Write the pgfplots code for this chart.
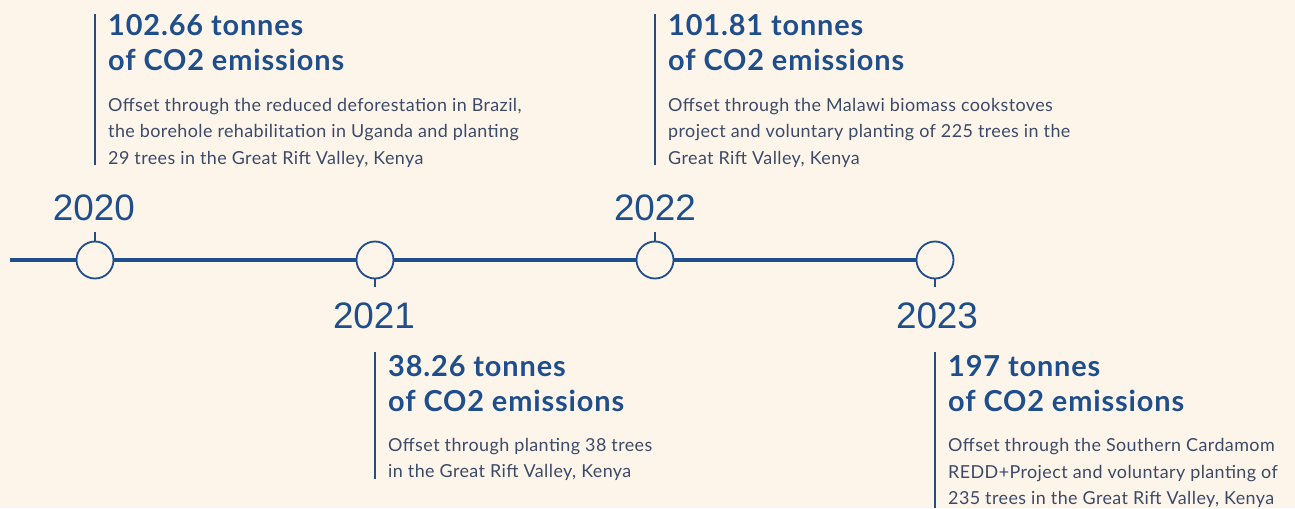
\documentclass[border=0pt]{standalone}
\usepackage{pgfplots}
\pgfplotsset{compat=1.18}
\usepackage{fontspec}
\setmainfont{Lato}
\newfontfamily\yearfont{Liberation Sans}
\newfontfamily\headfont[LetterSpace=3]{Lato}
\newfontfamily\bodfont[LetterSpace=2.3]{Lato}
\definecolor{bg}{HTML}{FEF5EA}
\definecolor{tblue}{HTML}{1F4E8D}
\definecolor{body}{HTML}{3B4A68}
\tikzset{
  head/.style={anchor=base west, font=\fontsize{29}{29}\selectfont\headfont\bfseries, text=tblue, inner sep=0pt},
  bod/.style={anchor=base west, font=\fontsize{18}{18}\selectfont\bodfont, text=body, inner sep=0pt},
  yr/.style={anchor=base, font=\fontsize{37}{37}\selectfont\yearfont, text=tblue, inner sep=0pt},
}
\begin{document}
\begin{tikzpicture}
\begin{axis}[
  scale only axis, width=1295bp, height=508bp,
  xmin=0, xmax=1295, ymin=0, ymax=508, y dir=reverse,
  hide axis, clip=false,
]
\fill[bg] (axis cs:0,0) rectangle (axis cs:1295,508);
% timeline
\addplot[tblue, line width=4bp] coordinates {(10,260) (935,260)};
% ticks
\addplot[tblue, line width=2bp] coordinates {(95,232) (95,242)};
\addplot[tblue, line width=2bp] coordinates {(375,278) (375,287)};
\addplot[tblue, line width=2bp] coordinates {(655,232) (655,242)};
\addplot[tblue, line width=2bp] coordinates {(935,278) (935,287)};
% vertical bars
\addplot[tblue, line width=2.5bp] coordinates {(95,14) (95,165)};
\addplot[tblue, line width=2.5bp] coordinates {(375,352) (375,479)};
\addplot[tblue, line width=2.5bp] coordinates {(655,14) (655,165)};
\addplot[tblue, line width=2.5bp] coordinates {(935,352) (935,508)};
% milestones
\addplot[only marks, mark=*, mark size=18.5bp, mark options={fill=bg, draw=tblue, line width=1.8bp}]
  coordinates {(95,260) (375,260) (655,260) (935,260)};
% years
\node[yr] at (axis cs:94,220) {2020};
\node[yr] at (axis cs:374,328) {2021};
\node[yr] at (axis cs:655,220) {2022};
\node[yr] at (axis cs:937,328) {2023};
% 2020
\node[head] at (axis cs:108,36) {102.66 tonnes};
\node[head] at (axis cs:108,71) {of CO2 emissions};
\node[bod] at (axis cs:108,111) {Offset through the reduced deforestation in Brazil,};
\node[bod] at (axis cs:108,137) {the borehole rehabilitation in Uganda and planting};
\node[bod] at (axis cs:108,164) {29 trees in the Great Rift Valley, Kenya};
% 2022
\node[head] at (axis cs:668,36) {101.81 tonnes};
\node[head] at (axis cs:668,71) {of CO2 emissions};
\node[bod] at (axis cs:668,111) {Offset through the Malawi biomass cookstoves};
\node[bod] at (axis cs:668,137) {project and voluntary planting of 225 trees in the};
\node[bod] at (axis cs:668,164) {Great Rift Valley, Kenya};
% 2021
\node[head] at (axis cs:388,376) {38.26 tonnes};
\node[head] at (axis cs:388,411) {of CO2 emissions};
\node[bod] at (axis cs:388,451) {Offset through planting 38 trees};
\node[bod] at (axis cs:388,477) {in the Great Rift Valley, Kenya};
% 2023
\node[head] at (axis cs:948,376) {197 tonnes};
\node[head] at (axis cs:948,411) {of CO2 emissions};
\node[bod] at (axis cs:948,451) {Offset through the Southern Cardamom};
\node[bod] at (axis cs:948,478) {REDD+Project and voluntary planting of};
\node[bod] at (axis cs:948,504) {235 trees in the Great Rift Valley, Kenya};
\end{axis}
\pgfresetboundingbox
\path (current axis.south west) rectangle (current axis.north east);
\end{tikzpicture}
\end{document}
